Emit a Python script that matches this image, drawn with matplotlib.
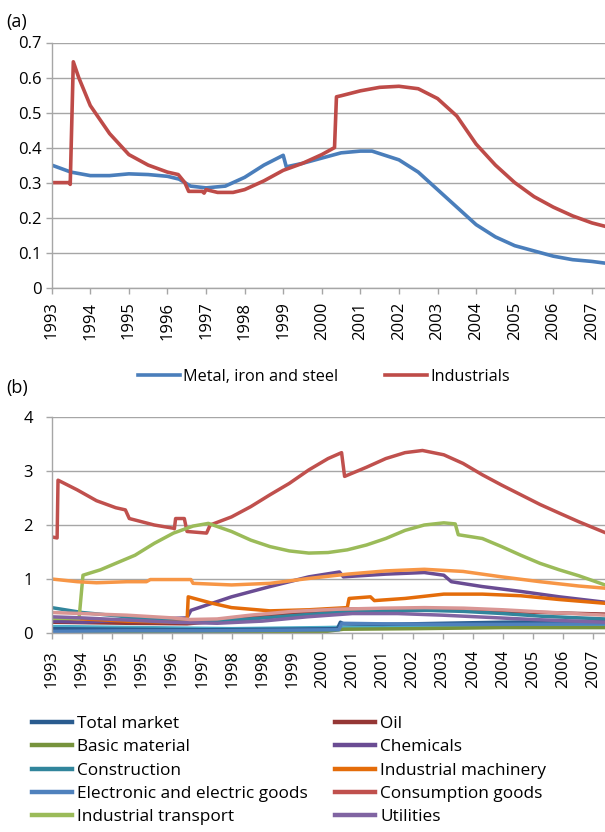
import matplotlib
matplotlib.use("Agg")
import matplotlib.pyplot as plt
from matplotlib.lines import Line2D

plt.rcParams['font.family'] = ['Open Sans', 'DejaVu Sans']

# ---------------- Panel (a) data (x in fractional years) ----------------
metal_x = [1993.0, 1993.5, 1994.0, 1994.5, 1995.0, 1995.5, 1996.0, 1996.3, 1996.6, 1997.0,
           1997.5, 1998.0, 1998.5, 1999.0, 1999.08, 1999.5, 2000.0, 2000.5, 2001.0, 2001.3,
           2002.0, 2002.5, 2003.0, 2003.5, 2004.0, 2004.5, 2005.0, 2005.5, 2006.0, 2006.5,
           2007.0, 2007.35]
metal_y = [0.35, 0.33, 0.32, 0.32, 0.325, 0.323, 0.318, 0.31, 0.29, 0.285,
           0.29, 0.315, 0.35, 0.378, 0.345, 0.355, 0.37, 0.385, 0.39, 0.39,
           0.365, 0.33, 0.28, 0.23, 0.18, 0.145, 0.12, 0.105, 0.09, 0.08,
           0.075, 0.07]

ind_x = [1993.0, 1993.45, 1993.48, 1993.56, 1993.7, 1994.0, 1994.5, 1995.0, 1995.5, 1996.0,
         1996.28, 1996.45, 1996.55, 1996.9, 1996.95, 1997.0, 1997.3, 1997.7, 1998.0, 1998.5,
         1999.0, 1999.5, 2000.0, 2000.33, 2000.38, 2000.5, 2001.0, 2001.5, 2002.0, 2002.5,
         2003.0, 2003.5, 2004.0, 2004.5, 2005.0, 2005.5, 2006.0, 2006.5, 2007.0, 2007.35]
ind_y = [0.30, 0.30, 0.295, 0.645, 0.60, 0.52, 0.44, 0.38, 0.35, 0.33,
         0.323, 0.30, 0.275, 0.275, 0.27, 0.28, 0.272, 0.272, 0.28, 0.305,
         0.335, 0.355, 0.38, 0.40, 0.545, 0.548, 0.562, 0.572, 0.575, 0.568,
         0.54, 0.49, 0.41, 0.35, 0.30, 0.26, 0.23, 0.205, 0.185, 0.175]

a_yticks = [0, 0.1, 0.2, 0.3, 0.4, 0.5, 0.6, 0.7]
a_yticklabels = ['0', '0.1', '0.2', '0.3', '0.4', '0.5', '0.6', '0.7']
a_xticks = list(range(1993, 2008))
a_xticklabels = [str(y) for y in a_xticks]

# ---------------- Panel (b) data (x in tick-index units) ----------------
b_xticklabels = ['1993', '1994', '1995', '1995', '1996', '1997', '1998', '1998', '1999', '2000',
                 '2001', '2001', '2002', '2003', '2004', '2004', '2005', '2006', '2007']

total_x = [0, 2.5, 5.0, 7.5, 9.5, 9.6, 9.7, 11.0, 13.0, 15.0, 18.4]
total_y = [0.08, 0.07, 0.06, 0.07, 0.08, 0.20, 0.17, 0.16, 0.18, 0.20, 0.22]

oil_x = [0, 2.5, 4.5, 6.0, 7.3, 8.5, 9.7, 11.0, 12.4, 13.7, 15.0, 16.3, 18.4]
oil_y = [0.20, 0.18, 0.17, 0.24, 0.32, 0.38, 0.44, 0.45, 0.43, 0.42, 0.40, 0.38, 0.35]

basic_x = [0, 3, 6, 9, 9.7, 12, 15, 18.4]
basic_y = [0.02, 0.02, 0.01, 0.02, 0.07, 0.08, 0.10, 0.10]

chem_x = [0, 1.04, 2.5, 4.0, 4.5, 4.63, 5.98, 7.26, 8.55, 9.57, 9.70, 11.11, 12.39, 13.04,
          13.29, 14.32, 15.60, 16.88, 18.40]
chem_y = [0.22, 0.20, 0.24, 0.27, 0.28, 0.42, 0.67, 0.86, 1.04, 1.13, 1.04, 1.09, 1.12, 1.07,
          0.95, 0.86, 0.77, 0.67, 0.57]

constr_x = [0, 1.0, 2.5, 4.0, 5.3, 6.6, 8.0, 9.5, 11.0, 12.4, 13.7, 15.0, 16.3, 18.4]
constr_y = [0.47, 0.38, 0.30, 0.24, 0.22, 0.26, 0.32, 0.38, 0.41, 0.42, 0.40, 0.36, 0.31, 0.26]

mach_x = [0, 1.04, 2.5, 4.0, 4.50, 4.54, 5.34, 5.98, 6.62, 7.26, 8.55, 9.83, 9.89, 10.60,
          10.73, 11.75, 13.04, 14.32, 15.60, 16.88, 18.40]
mach_y = [0.28, 0.26, 0.22, 0.20, 0.20, 0.67, 0.55, 0.47, 0.44, 0.41, 0.43, 0.47, 0.64, 0.67,
          0.60, 0.64, 0.72, 0.72, 0.69, 0.62, 0.55]

elec_x = [0, 2.5, 5.0, 7.5, 9.55, 9.65, 11.0, 13.0, 15.0, 18.4]
elec_y = [0.03, 0.04, 0.04, 0.05, 0.06, 0.18, 0.17, 0.16, 0.16, 0.17]

cons_x = [0, 0.18, 0.21, 0.85, 1.49, 2.13, 2.45, 2.58, 3.41, 4.05, 4.08, 4.12, 4.41, 4.50,
          5.15, 5.27, 5.98, 6.62, 7.26, 7.90, 8.55, 9.19, 9.64, 9.74, 10.47, 11.11, 11.75,
          12.33, 13.04, 13.68, 14.32, 14.96, 15.60, 16.24, 16.88, 17.53, 18.40]
cons_y = [1.78, 1.76, 2.83, 2.65, 2.45, 2.32, 2.28, 2.12, 2.00, 1.94, 1.93, 2.12, 2.12, 1.88,
          1.85, 2.00, 2.15, 2.34, 2.56, 2.77, 3.02, 3.23, 3.34, 2.90, 3.07, 3.23, 3.34,
          3.38, 3.30, 3.14, 2.93, 2.74, 2.56, 2.38, 2.22, 2.06, 1.86]

trans_x = [0, 0.91, 1.04, 1.62, 2.13, 2.77, 3.41, 4.05, 4.70, 5.21, 5.98, 6.62, 7.26, 7.90,
           8.55, 9.19, 9.83, 10.47, 11.11, 11.75, 12.39, 13.04, 13.42, 13.52, 14.32, 14.96,
           15.60, 16.24, 16.88, 17.53, 18.40]
trans_y = [0.27, 0.27, 1.07, 1.17, 1.29, 1.44, 1.66, 1.85, 1.98, 2.03, 1.88, 1.72, 1.60, 1.52,
           1.48, 1.49, 1.54, 1.63, 1.75, 1.90, 2.00, 2.04, 2.02, 1.82, 1.75, 1.60,
           1.44, 1.29, 1.17, 1.06, 0.89]

util_x = [0, 1.0, 2.5, 4.0, 5.5, 7.0, 8.5, 10.0, 11.5, 13.0, 14.5, 16.0, 18.4]
util_y = [0.30, 0.28, 0.24, 0.20, 0.18, 0.22, 0.30, 0.36, 0.36, 0.33, 0.29, 0.25, 0.20]

# series drawn but not shown in the (cut) legend
lorange_x = [0, 0.85, 1.49, 2.51, 3.15, 3.28, 4.63, 4.70, 5.98, 7.26, 8.55, 9.83, 11.11,
             12.39, 13.68, 14.96, 16.24, 17.53, 18.40]
lorange_y = [1.00, 0.95, 0.93, 0.95, 0.95, 0.99, 0.99, 0.92, 0.89, 0.92, 1.01, 1.09, 1.15,
             1.18, 1.14, 1.04, 0.95, 0.87, 0.83]

pink_x = [0, 1.0, 2.5, 4.0, 4.6, 5.5, 6.6, 8.0, 9.5, 11.0, 12.4, 13.7, 15.0, 16.3, 18.4]
pink_y = [0.38, 0.36, 0.33, 0.28, 0.25, 0.26, 0.33, 0.40, 0.44, 0.46, 0.47, 0.46, 0.43, 0.39, 0.33]

aqua_x = [0, 3, 6, 9, 12, 15, 18.4]
aqua_y = [0.12, 0.10, 0.08, 0.10, 0.13, 0.15, 0.15]

b_yticks = [0, 1, 2, 3, 4]
b_yticklabels = ['0', '1', '2', '3', '4']

# ---------------- Figure ----------------
fig = plt.figure(figsize=(6.05, 8.32), dpi=100)
W, H = 605.0, 832.0

grid_c = '#A6A6A6'
tick_fs = 12


def style_axes(ax, xpad, ypad):
    for s in ['top', 'right']:
        ax.spines[s].set_visible(False)
    for s in ['left', 'bottom']:
        ax.spines[s].set_color(grid_c)
        ax.spines[s].set_linewidth(1.0)
    ax.yaxis.grid(True, color=grid_c, linewidth=1.0)
    ax.set_axisbelow(True)
    ax.xaxis.set_tick_params(direction='out', length=4, width=1.0, color=grid_c,
                             labelsize=tick_fs, labelcolor='black', pad=xpad)
    ax.yaxis.set_tick_params(direction='out', length=4, width=1.0, color=grid_c,
                             labelsize=tick_fs, labelcolor='black', pad=ypad)


# Panel (a)
left = 51.7 / W
ax_a = fig.add_axes([left, 1 - 287.7 / H, 1 - left, (287.7 - 42.5) / H])
ax_a.plot(metal_x, metal_y, color='#4A7EBB', lw=2.6, label='Metal, iron and steel',
          solid_joinstyle='round')
ax_a.plot(ind_x, ind_y, color='#BE4B48', lw=2.6, label='Industrials', solid_joinstyle='round')
ax_a.set_xlim(1993, 2007.34)
ax_a.set_ylim(0, 0.7)
ax_a.set_yticks(a_yticks)
ax_a.set_yticklabels(a_yticklabels)
ax_a.set_xticks(a_xticks)
ax_a.set_xticklabels(a_xticklabels, rotation=90)
style_axes(ax_a, xpad=6, ypad=3.5)
ax_a.legend(loc='center left', bbox_to_anchor=(138 / W, 1 - 377 / H),
            bbox_transform=fig.transFigure,
            ncol=2, frameon=False, fontsize=11.7, handlelength=2.58, handletextpad=0.18,
            columnspacing=2.9, borderpad=0, borderaxespad=0)

fig.text(6 / W, 1 - 22 / H, '(a)', fontsize=13, ha='left', va='center')
fig.text(6 / W, 1 - 388 / H, '(b)', fontsize=13, ha='left', va='center')

# Panel (b)
ax_b = fig.add_axes([left, 1 - 633 / H, 1 - left, (633 - 417) / H])
series_b = [
    (total_x, total_y, '#2A5C8F', 'Total market'),
    (oil_x, oil_y, '#953735', 'Oil'),
    (basic_x, basic_y, '#77933C', 'Basic material'),
    (chem_x, chem_y, '#6A4C93', 'Chemicals'),
    (constr_x, constr_y, '#31859C', 'Construction'),
    (mach_x, mach_y, '#E46C0A', 'Industrial machinery'),
    (elec_x, elec_y, '#4F81BD', 'Electronic and electric goods'),
    (cons_x, cons_y, '#C0504D', 'Consumption goods'),
    (trans_x, trans_y, '#9BBB59', 'Industrial transport'),
    (util_x, util_y, '#8064A2', 'Utilities'),
]
extra_b = [
    (lorange_x, lorange_y, '#F79646'),
    (pink_x, pink_y, '#D99694'),
    (aqua_x, aqua_y, '#4BACC6'),
]
for xs, ys, c in extra_b[2:]:
    ax_b.plot(xs, ys, color=c, lw=2.5, solid_joinstyle='round')
for xs, ys, c, lab in series_b:
    ax_b.plot(xs, ys, color=c, lw=2.5, label=lab, solid_joinstyle='round')
for xs, ys, c in extra_b[:2]:
    ax_b.plot(xs, ys, color=c, lw=2.5, solid_joinstyle='round')

ax_b.set_xlim(0, 18.4)
ax_b.set_ylim(0, 4)
ax_b.set_yticks(b_yticks)
ax_b.set_yticklabels(b_yticklabels)
ax_b.set_xticks(list(range(len(b_xticklabels))))
ax_b.set_xticklabels(b_xticklabels, rotation=90)
style_axes(ax_b, xpad=8.2, ypad=9.4)

# legend: rows filled column-major with ncol=2
order = [0, 2, 4, 6, 8, 1, 3, 5, 7, 9]
leg_h = [Line2D([0], [0], color=series_b[i][2], lw=3.2) for i in order]
leg_l = [series_b[i][3] for i in order]
fig.legend(leg_h, leg_l, loc='upper left', bbox_to_anchor=(32 / W, 1 - 716 / H),
           ncol=2, frameon=False, fontsize=12.4, handlelength=2.33, handletextpad=0.29,
           columnspacing=1.57, labelspacing=0.42, borderpad=0, borderaxespad=0)

fig.savefig('out.png', dpi=100)
